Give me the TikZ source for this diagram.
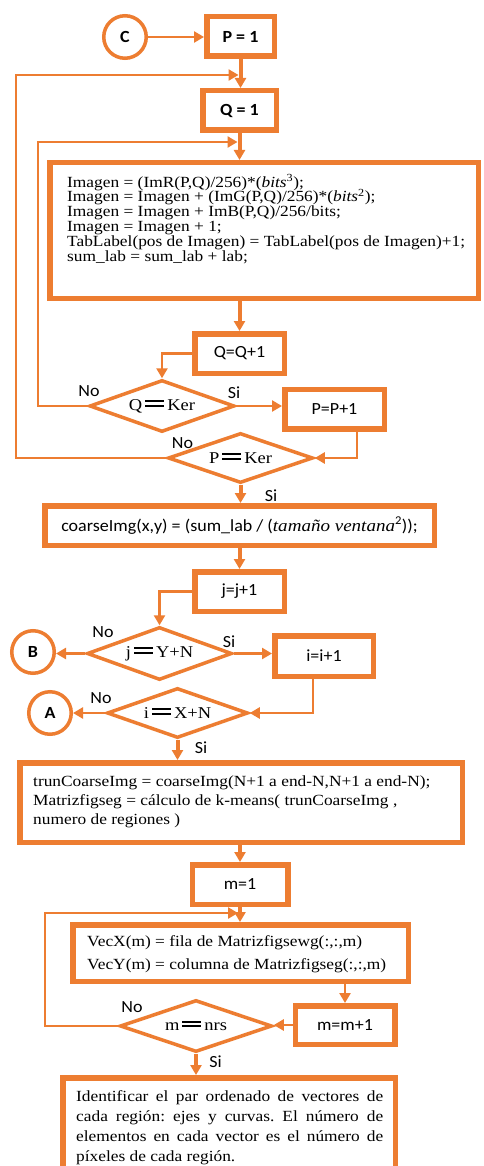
\documentclass[tikz,border=0pt]{standalone}
\usepackage{fontspec}
\setmainfont[FakeStretch=1.12]{Liberation Serif}
\newfontfamily\calfam[FakeStretch=1.06]{Carlito}
\usetikzlibrary{shapes.geometric,arrows.meta}
\definecolor{orng}{HTML}{ED7D31}
\frenchspacing
\newcommand\dbleq{\hspace{3pt}\rlap{\rule[3.5pt]{19pt}{2pt}}\rule[8pt]{19pt}{2pt}\hspace{3pt}}
\newcommand\lblfont{\calfam\fontsize{17}{20}\selectfont}
\newcommand\codefont{\rmfamily\fontsize{15.5}{14.8}\selectfont\lineskiplimit=-20pt\lineskip=0pt}
\newcommand\dfont{\rmfamily\fontsize{16.5}{18}\selectfont}
\tikzset{
  box/.style={draw=orng, line width=5.5pt, rectangle, inner sep=0pt, text=black, font=\lblfont},
  dia/.style={draw=orng, line width=3.5pt, diamond, inner sep=0pt, text=black, font=\dfont},
  circ/.style={draw=orng, line width=3.5pt, circle, inner sep=0pt, minimum size=42.5pt, text=black, font=\lblfont\bfseries},
  yn/.style={inner sep=0pt, text=black, font=\lblfont},
  txt/.style={inner sep=0pt, text=black, align=left},
  main/.style={draw=orng, line width=4pt, -{Triangle[length=10pt,width=11pt]}},
  link/.style={draw=orng, line width=2.5pt, -{Triangle[length=10pt,width=11pt]}},
}
\begin{document}
\begin{tikzpicture}[x=1pt,y=-1pt]
\useasboundingbox (0,0) rectangle (483,1166);
\clip (0,0) rectangle (483,1166);
\fill[white] (0,0) rectangle (483,1166);

% nodes
\node[circ] (C) at (125,37) {C};
\node[box, minimum width=67.5pt, minimum height=39.5pt, font=\lblfont\bfseries] (P1) at (240.5,36.5) {P = 1};
\node[box, minimum width=73.5pt, minimum height=39.5pt, font=\lblfont\bfseries] (Q1) at (239.5,110.5) {Q = 1};
\node[box, minimum width=428.5pt, minimum height=135.5pt] (big) at (264,230.5) {};
\node[txt, anchor=west, font=\codefont] (bigtxt) at (67,219) {Imagen = (ImR(P,Q)/256)*(\textit{bits}\textsuperscript{3});\\
Imagen = Imagen + (ImG(P,Q)/256)*(\textit{bits}\textsuperscript{2});\\
Imagen = Imagen + ImB(P,Q)/256/bits;\\
Imagen = Imagen + 1;\\
TabLabel(pos de Imagen) = TabLabel(pos de Imagen)+1;\\
sum\_lab = sum\_lab + lab;};
\node[box, minimum width=89.5pt, minimum height=39.5pt] (QQ) at (239.5,353.5) {Q=Q+1};
\node[dia, aspect=2.79, minimum width=145pt, minimum height=52pt] (dQ) at (162,406) {Q\dbleq Ker};
\node[box, minimum width=99.5pt, minimum height=39.5pt] (PP) at (334.5,409) {P=P+1};
\node[dia, aspect=2.9, minimum width=145pt, minimum height=50pt] (dP) at (240.5,458) {P\dbleq Ker};
\node[box, minimum width=389.5pt, minimum height=39.5pt] (coarse) at (239.5,525.5) {coarseImg(x,y) = (sum\_lab / ({\rmfamily\itshape tamaño ventana}\textsuperscript{2}));};
\node[box, minimum width=89.5pt, minimum height=39.5pt] (jj) at (239.5,591.5) {j=j+1};
\node[dia, aspect=2.74, minimum width=145pt, minimum height=53pt] (dj) at (159.5,653.5) {j\dbleq Y+N};
\node[circ] (B) at (33,652) {B};
\node[box, minimum width=98.5pt, minimum height=40.5pt] (ii) at (324,656) {i=i+1};
\node[dia, aspect=2.82, minimum width=141pt, minimum height=50pt] (di) at (177.5,713) {i\dbleq X+N};
\node[circ] (A) at (50,713) {A};
\node[box, minimum width=442.5pt, minimum height=79.5pt] (trunc) at (241,802.5) {};
\node[txt, anchor=west, font=\rmfamily\fontsize{15.5}{19}\selectfont] (trunctxt) at (33,801.5) {trunCoarseImg = coarseImg(N+1 a end-N,N+1 a end-N);\\
Matrizfigseg = cálculo de k-means( trunCoarseImg ,\\
numero de regiones )};
\node[box, minimum width=95.5pt, minimum height=39.5pt] (m1) at (240,884.5) {m=1};
\node[box, minimum width=335.5pt, minimum height=56.5pt] (vec) at (240.5,953) {};
\node[txt, anchor=west, font=\rmfamily\fontsize{15.5}{23}\selectfont] (vectxt) at (87,954.5) {VecX(m) = fila de Matrizfigsewg(:,:,m)\\
VecY(m) = columna de Matrizfigseg(:,:,m)};
\node[box, minimum width=99.5pt, minimum height=38.5pt] (mm) at (345,1025) {m=m+1};
\node[dia, aspect=2.92, minimum width=152pt, minimum height=52pt] (dm) at (196,1026) {m\dbleq nrs};
\node[box, minimum width=332.5pt, minimum height=99.5pt] (final) at (229,1127.5) {};
\node[inner sep=0pt, anchor=north west, text width=307pt, align=justify, text=black, font=\rmfamily\fontsize{15.5}{20}\selectfont] (finaltxt) at (76,1090) {Identificar el par ordenado de vectores de\linebreak cada región: ejes y curvas. El número de\linebreak elementos en cada vector es el número de\linebreak píxeles de cada región.};

% labels
\node[yn] (nQ) at (89,391) {No};
\node[yn] (sQ) at (234,393) {Si};
\node[yn] (nP) at (182.5,443) {No};
\node[yn] (sP) at (271,496) {Si};
\node[yn] (nj) at (103,632) {No};
\node[yn] (sj) at (229,642) {Si};
\node[yn] (ni) at (101,698) {No};
\node[yn] (si) at (201,748) {Si};
\node[yn] (nm) at (132,1007) {No};
\node[yn] (sm) at (215.5,1062) {Si};

% loop coordinates
\coordinate (o1) at (16,75);
\coordinate (o2) at (238.5,75);
\coordinate (i1) at (38,142);
\coordinate (i2) at (237.5,142);
\coordinate (l1) at (45,913);
\coordinate (l2) at (238,913);

% connectors
\draw[link] (C.east) -- (C.east -| P1.west);
\draw[main] (P1.south) -- (P1.south |- Q1.north);
\draw[link] (dP.west) -| (o1) -- (o2);
\draw[main] (Q1.south) -- (Q1.south |- big.north);
\draw[link] (dQ.west) -| (i1) -- (i2);
\draw[main] (QQ.north |- big.south) -- (QQ.north);
\draw[link] (QQ.west) -| (dQ.north);
\draw[link] (dQ.east) -- (dQ.east -| PP.west);
\draw[link] ([xshift=22.5pt]PP.south) |- (dP.east);
\draw[main] (dP.south) -- (dP.south |- coarse.north);
\draw[main] (jj.north |- coarse.south) -- (jj.north);
\draw[link] (jj.west) -| (dj.north);
\draw[link] (dj.west) -- (B.east |- dj.west);
\draw[link] (dj.east) -- (dj.east -| ii.west);
\draw[link] ([xshift=-11pt]ii.south) |- (di.east);
\draw[link] (di.west) -- (A.east);
\draw[main] (di.south) -- (di.south |- trunc.north);
\draw[main] (m1.north |- trunc.south) -- (m1.north);
\draw[main] (m1.south) -- (m1.south |- vec.north);
\draw[link] (mm.north |- vec.south) -- (mm.north);
\draw[link] (mm.west) -- (mm.west -| dm.east);
\draw[link] (dm.west) -| (l1) -- (l2);
\draw[main] (dm.south) -- (dm.south |- final.north);
\end{tikzpicture}
\end{document}
